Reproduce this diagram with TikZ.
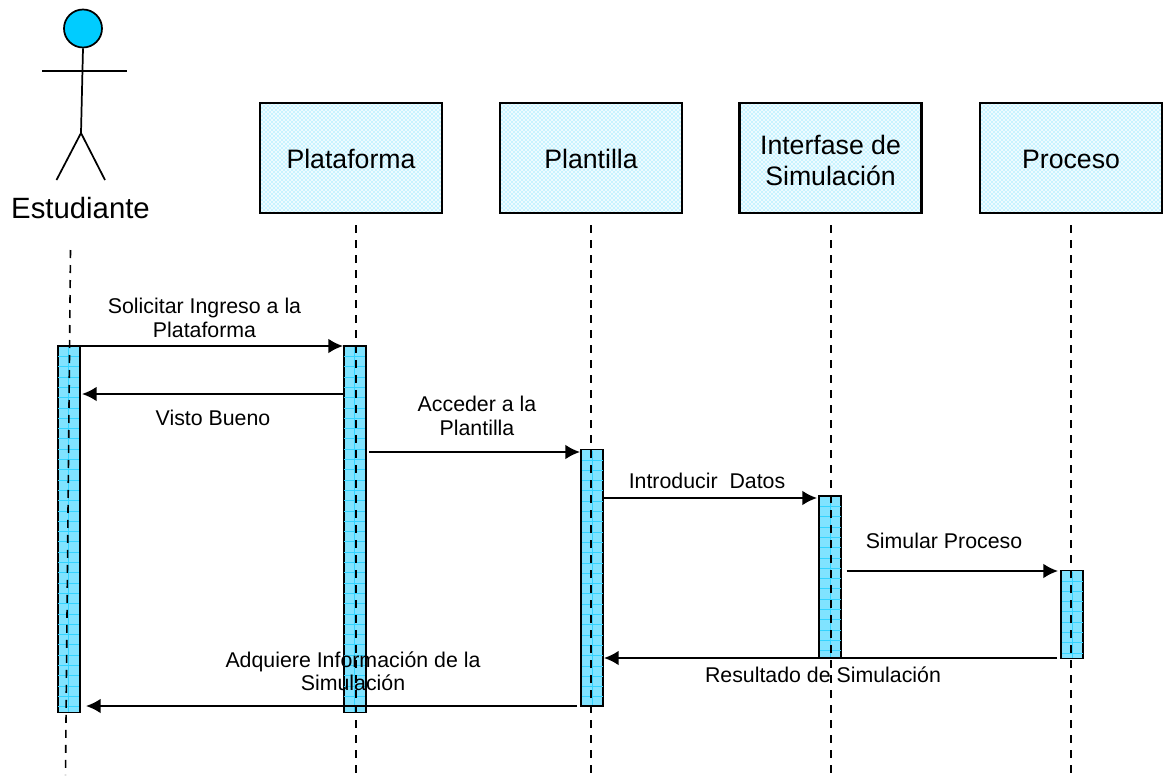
\documentclass[tikz,border=0pt]{standalone}
\usepackage{fontspec}
\setmainfont{Liberation Sans}
\usetikzlibrary{arrows.meta,patterns}

\definecolor{actorcyan}{HTML}{00CCFF}
\definecolor{boxcyan}{HTML}{EEFBFF}
\definecolor{dotcyan}{HTML}{4DDBFF}
\definecolor{barcyan}{HTML}{80E3FF}
\definecolor{gridcyan}{HTML}{33D3FF}

\newcommand{\boxstrut}[1]{\rule{0pt}{#1}}

\tikzset{
  classbox/.style={draw, line width=1.7pt, preaction={fill=boxcyan}, pattern=crosshatch dots, pattern color=dotcyan,
    minimum width=136.5pt, minimum height=82.5pt, inner sep=0pt, align=center, font=\fontsize{20}{23.5}\selectfont},
  barbox/.style={draw, line width=1.4pt, fill=barcyan, minimum width=16.5pt, inner sep=0pt},
  barline/.style={gridcyan, line width=0.4pt},
  lifeline/.style={dashed, dash pattern=on 6pt off 5.25pt, line width=1.2pt},
  message/.style={-{Latex[length=11pt,width=11pt]}, line width=1.4pt},
  actorline/.style={line width=1.3pt},
  msglabel/.style={inner sep=0pt, align=center, font=\fontsize{16}{17.5}\selectfont}
}

\begin{document}
\begin{tikzpicture}[x=0.75pt,y=-0.75pt]
  \useasboundingbox (0,0) rectangle (1163,778);

  \node[classbox] (plataforma) at (351,158) {\boxstrut{16pt}Plataforma};
  \node[classbox] (plantilla) at (591,158) {\boxstrut{16pt}Plantilla};
  \node[classbox] (interfase) at (830.5,158) {\boxstrut{18pt}Interfase de\\Simulación};
  \node[classbox] (proceso) at (1071,158) {\boxstrut{16pt}Proceso};

  \foreach \name/\x/\ya/\yb in {barEst/68.75/346/712.5, barPlat/354.75/346/712.5, barPlan/592.25/449.5/706, barInt/830/496/658, barProc/1072.25/570.5/658.5} {
    \node[barbox, minimum height=(\yb-\ya)*0.75pt] (\name) at (\x,{(\ya+\yb)/2}) {};
    \foreach \k in {1,...,35} {
      \pgfmathsetmacro{\yk}{\ya+10.3*\k}
      \ifdim\yk pt<\yb pt
        \draw[barline] (\x-10.5,\yk) -- (\x+10.5,\yk);
      \fi
    }
    \draw[barline] (\x,\ya+1) -- (\x,\yb-1);
  }

  \coordinate (estTop) at (70.5,250);
  \coordinate (estEnd) at (65.5,775);
  \coordinate (platTop) at (356,225);
  \coordinate (platEnd) at (356,775);
  \coordinate (planTop) at (591,225);
  \coordinate (planEnd) at (591,775);
  \coordinate (intTop) at (831,225);
  \coordinate (intEnd) at (831,775);
  \coordinate (procTop) at (1071,225);
  \coordinate (procEnd) at (1071,775);

  \draw[lifeline] (estTop) -- (estEnd);
  \draw[lifeline] (platTop) -- (platEnd);
  \draw[lifeline] (planTop) -- (planEnd);
  \draw[lifeline] (intTop) -- (intEnd);
  \draw[lifeline] (procTop) -- (procEnd);

  \coordinate (solicitarA) at (80,346);
  \coordinate (solicitarB) at (343,346);
  \coordinate (vistoA) at (343,394);
  \coordinate (vistoB) at (82,394);
  \coordinate (accederA) at (369,452);
  \coordinate (accederB) at (580,452);
  \coordinate (datosA) at (604,498);
  \coordinate (datosB) at (817,498);
  \coordinate (simularA) at (846.5,571);
  \coordinate (simularB) at (1058,571);
  \coordinate (resultadoA) at (1057,658);
  \coordinate (resultadoB) at (604,658);
  \coordinate (adquiereA) at (577,706);
  \coordinate (adquiereB) at (86,706);

  \draw[message] (solicitarA) -- (solicitarB);
  \draw[message] (vistoA) -- (vistoB);
  \draw[message] (accederA) -- (accederB);
  \draw[message] (datosA) -- (datosB);
  \draw[message] (simularA) -- (simularB);
  \draw[message] (resultadoA) -- (resultadoB);
  \draw[message] (adquiereA) -- (adquiereB);

  \node[msglabel] (solicitarText) at (204.5,318) {Solicitar Ingreso a la\\Plataforma};
  \node[msglabel, anchor=base] (vistoText) at (213,425) {Visto Bueno};
  \node[msglabel] (accederText) at (477,416) {Acceder a la\\Plantilla};
  \node[msglabel, anchor=base] (datosText) at (707,488) {Introducir\ \ Datos};
  \node[msglabel, anchor=base] (simularText) at (944,548) {Simular Proceso};
  \node[msglabel, anchor=base] (resultadoText) at (823,682) {Resultado de Simulación};
  \node[msglabel] (adquiereText) at (353,671) {Adquiere Información de la\\Simulación};

  \node[circle, draw, line width=1.3pt, fill=actorcyan, minimum size=28.5pt, inner sep=0pt] (head) at (83,28.5) {};
  \coordinate (hip) at (81,133);
  \coordinate (armL) at (42,71);
  \coordinate (armR) at (127,71);
  \coordinate (footL) at (56.5,180);
  \coordinate (footR) at (105,180);
  \draw[actorline] (head.south) -- (hip);
  \draw[actorline] (armL) -- (armR);
  \draw[actorline] (footL) -- (hip) -- (footR);
  \node[inner sep=0pt, anchor=base, font=\fontsize{22}{26}\selectfont] (estudiante) at (80.5,218) {Estudiante};
\end{tikzpicture}
\end{document}
